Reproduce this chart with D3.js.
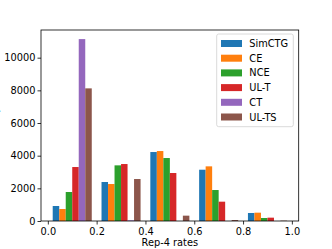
<!DOCTYPE html>
<html>
<head>
<meta charset="utf-8">
<script src="https://cdn.jsdelivr.net/npm/d3@7"></script>
<style>
  body { margin: 0; background: #fff; }
  svg { display: block; font-family: "DejaVu Sans", sans-serif; }
</style>
</head>
<body>
<svg width="332" height="249"></svg>
<script>
// histogram bins (Rep-4 rate) and counts per method
const binEdges = [0, 0.2, 0.4, 0.6, 0.8, 1.0];
const seriesNames = ["SimCTG", "CE", "NCE", "UL-T", "CT", "UL-TS"];
const seriesColors = ["#1f77b4", "#ff7f0e", "#2ca02c", "#d62728", "#9467bd", "#8c564b"];
const simctgCounts = [918, 2387, 4223, 3140, 490];
const ceCounts = [734, 2264, 4284, 3346, 510];
const nceCounts = [1775, 3407, 3856, 1897, 184];
const ultCounts = [3305, 3488, 2938, 1183, 204];
const ctCounts = [11138, 40, 0, 0, 0];
const ultsCounts = [8121, 2570, 327, 61, 20];
const xTicks = [0, 0.2, 0.4, 0.6, 0.8, 1.0];
const yTicks = [0, 2000, 4000, 6000, 8000, 10000];

const allCounts = [simctgCounts, ceCounts, nceCounts, ultCounts, ctCounts, ultsCounts];

const svg = d3.select("svg");
const plotLeft = 41, plotRight = 298.7, plotTop = 30, plotBottom = 221;
const fontSize = "9.8px";

// matplotlib-style margins
const nSeries = allCounts.length;
const barFrac = 0.8;
const binW = binEdges[1] - binEdges[0];
const barW = barFrac * binW / nSeries;
const pad0 = (1 - barFrac) / 2 * binW;
const xMin = binEdges[0] + pad0, xMax = binEdges[binEdges.length - 1] - pad0;
const xm = (xMax - xMin) * 0.05;
const x = d3.scaleLinear().domain([xMin - xm, xMax + xm]).range([plotLeft, plotRight]);
const yMax = d3.max(allCounts.flat());
const y = d3.scaleLinear().domain([0, yMax * 1.05]).range([plotBottom, plotTop]);

// bars
const group = svg.append("g").attr("class", "bars");
allCounts.forEach((counts, si) => {
  group.selectAll(null)
    .data(counts)
    .enter()
    .append("rect")
    .attr("x", (d, bi) => x(binEdges[bi] + pad0 + si * barW))
    .attr("width", (d, bi) => x(binEdges[bi] + pad0 + (si + 1) * barW) - x(binEdges[bi] + pad0 + si * barW))
    .attr("y", (d) => y(d))
    .attr("height", (d) => y(0) - y(d))
    .attr("fill", seriesColors[si]);
});

// axes
const xAxis = svg.append("g")
  .attr("transform", `translate(0,${plotBottom})`)
  .call(d3.axisBottom(x).tickValues(xTicks).tickFormat(d3.format(".1f")).tickSize(3.5).tickPadding(3.5).tickSizeOuter(0));
const yAxis = svg.append("g")
  .attr("transform", `translate(${plotLeft},0)`)
  .call(d3.axisLeft(y).tickValues(yTicks).tickFormat(d3.format("d")).tickSize(3.5).tickPadding(2).tickSizeOuter(0));
[xAxis, yAxis].forEach((a) => {
  a.select(".domain").remove();
  a.selectAll("text").attr("font-size", fontSize).attr("font-family", "DejaVu Sans").attr("fill", "#000");
  a.selectAll("line").attr("stroke", "#000").attr("stroke-width", 0.8);
});

// frame
svg.append("rect")
  .attr("x", plotLeft)
  .attr("y", plotTop)
  .attr("width", plotRight - plotLeft)
  .attr("height", plotBottom - plotTop)
  .attr("fill", "none")
  .attr("stroke", "#000")
  .attr("stroke-width", 0.8);

// labels
svg.append("text")
  .attr("x", (plotLeft + plotRight) / 2)
  .attr("y", 245.5)
  .attr("text-anchor", "middle")
  .attr("font-size", fontSize)
  .text("Rep-4 rates");

svg.append("text")
  .attr("transform", `translate(-1.6,${(plotTop + plotBottom) / 2}) rotate(-90)`)
  .attr("text-anchor", "middle")
  .attr("font-size", fontSize)
  .text("Density");

// legend
const legend = svg.append("g").attr("class", "legend");
legend.append("rect")
  .attr("x", 216.7)
  .attr("y", 34)
  .attr("width", 76.6)
  .attr("height", 92.7)
  .attr("rx", 2)
  .attr("fill", "#fff")
  .attr("fill-opacity", 0.8)
  .attr("stroke", "#d0d0d0")
  .attr("stroke-width", 0.8);
seriesNames.forEach((name, i) => {
  const cy = 43.5 + i * 14.7;
  legend.append("rect")
    .attr("x", 221)
    .attr("y", cy - 3.5)
    .attr("width", 21)
    .attr("height", 7)
    .attr("fill", seriesColors[i]);
  legend.append("text")
    .attr("x", 249.3)
    .attr("y", cy)
    .attr("dy", "0.36em")
    .attr("font-size", fontSize)
    .text(name);
});
</script>
</body>
</html>
